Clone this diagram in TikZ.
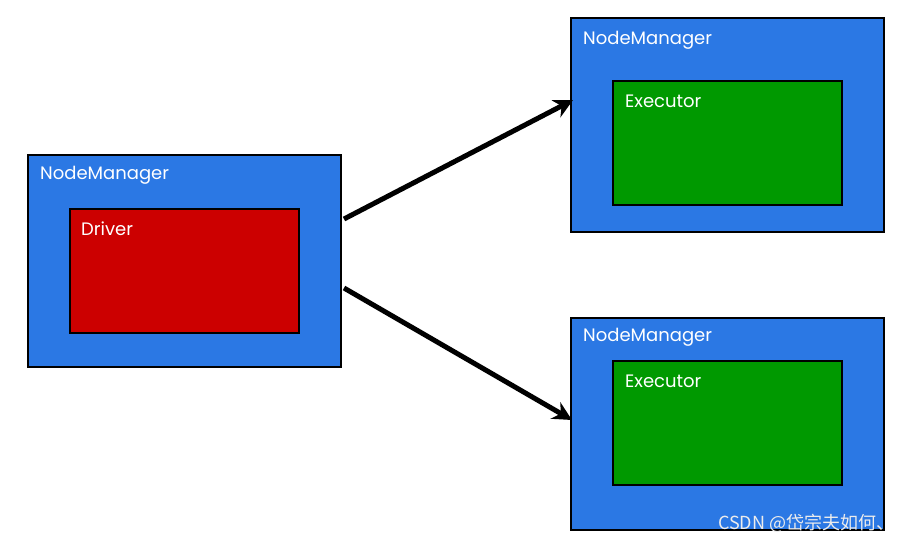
\documentclass[tikz,border=0pt]{standalone}
\usepackage{fontspec}
\setmainfont{Poppins}
\newfontfamily\cjk{Noto Sans CJK SC}
\usetikzlibrary{arrows.meta}
\definecolor{nmblue}{HTML}{2B78E4}
\definecolor{drvred}{HTML}{CC0000}
\definecolor{exgreen}{HTML}{009900}
\tikzset{
  nmbox/.style={draw=black, line width=2.5pt, fill=nmblue},
  drvbox/.style={draw=black, line width=2.5pt, fill=drvred},
  exbox/.style={draw=black, line width=2.5pt, fill=exgreen},
  lbl/.style={text=white, font=\fontsize{18}{20}\selectfont, anchor=west, inner sep=0pt},
  conn/.style={draw=black, line width=5pt, -{Stealth[length=19pt,width=19pt]}}
}
\begin{document}
\begin{tikzpicture}[x=1pt,y=-1pt]
\useasboundingbox (0,0) rectangle (912,544);
% left
\draw[nmbox] (28,155) rectangle (341,367);
\draw[drvbox] (70,209) rectangle (299,333);
\node[lbl] (t1) at (40,175) {NodeManager};
\node[lbl] (t2) at (81,229) {Driver};
% top right
\draw[nmbox] (571,18) rectangle (884,232);
\draw[exbox] (613,81) rectangle (842,205);
\node[lbl] (t3) at (583,40) {NodeManager};
\node[lbl] (t4) at (625,101) {Executor};
% bottom right
\draw[nmbox] (571,318) rectangle (884,530);
\draw[exbox] (613,361) rectangle (842,485);
\node[lbl] (t5) at (583,337) {NodeManager};
\node[lbl] (t6) at (625,381) {Executor};
% arrows
\coordinate (a1s) at (344,219);
\coordinate (a1e) at (573,100);
\coordinate (a2s) at (344,288);
\coordinate (a2e) at (572,420);
\draw[conn] (a1s) -- (a1e);
\draw[conn] (a2s) -- (a2e);
% watermark
\node[text=white!85!gray, font=\cjk\fontsize{18}{20}\selectfont, anchor=west, inner sep=0pt] (wm) at (718,523) {CSDN @岱宗夫如何、};
\end{tikzpicture}
\end{document}
